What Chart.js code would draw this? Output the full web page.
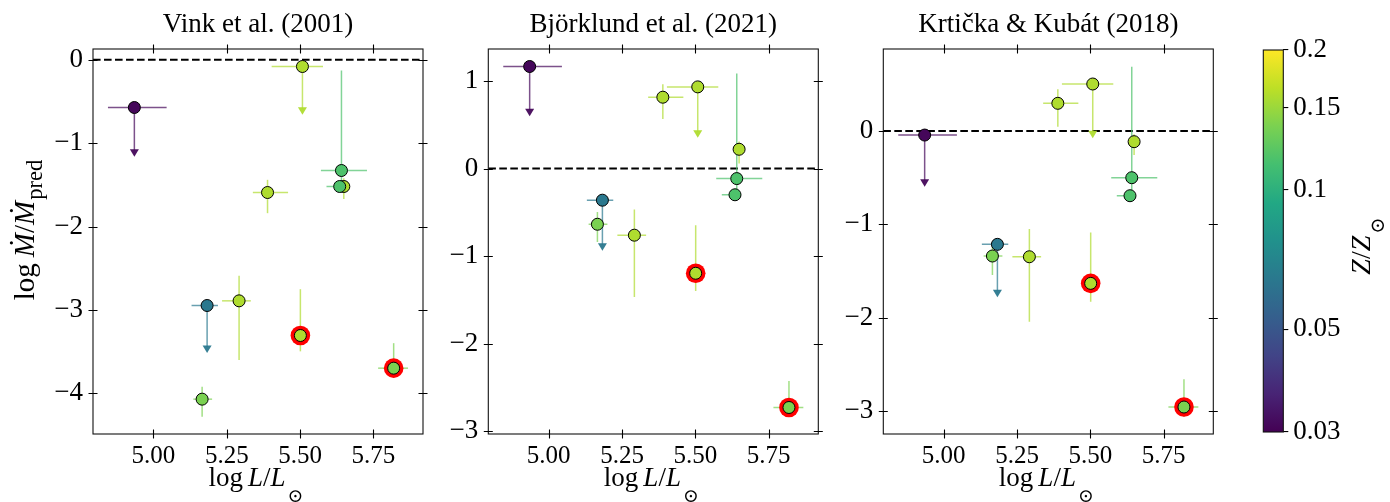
<!DOCTYPE html>
<html><head><meta charset="utf-8">
<script src="https://cdn.jsdelivr.net/npm/chart.js@4.4.0/dist/chart.umd.min.js"></script>
<style>
html,body{margin:0;padding:0;background:#fff;}
#wrap{position:relative;width:1390px;height:502px;overflow:hidden;background:#fff;}
canvas{position:absolute;left:0;top:0;}
</style></head><body><div id="wrap">
<canvas id="p0" width="1390" height="502"></canvas>
<canvas id="p1" width="1390" height="502"></canvas>
<canvas id="p2" width="1390" height="502"></canvas>
<canvas id="cb" width="1390" height="502"></canvas>
</div>
<script>
// ---------------- data ----------------
const panelTitles = ['Vink et al. (2001)', 'Björklund et al. (2021)', 'Krtička & Kubát (2018)'];
// stars (same order in every panel)
const logL        = [4.935, 5.508, 5.389, 5.649, 5.641, 5.635, 5.183, 5.166, 5.292, 5.501, 5.819];
const logLErrLo   = [0.090, 0.105, 0.050, 0.012, 0.070, 0.045, 0.053, 0.030, 0.058, 0.000, 0.053];
const logLErrHi   = [0.110, 0.070, 0.070, 0.012, 0.087, 0.005, 0.037, 0.034, 0.040, 0.000, 0.049];
const metallicity = [0.031, 0.159, 0.159, 0.159, 0.117, 0.117, 0.064, 0.137, 0.159, 0.159, 0.137];
const upperLimit  = [true, true, false, false, false, false, true, false, false, false, false];
const highlighted = [false, false, false, false, false, false, false, false, false, true, true];

// log Mdot / Mdot_pred per panel, with lower / upper errors (lower = arrow length for upper limits)
const ratioVink   = [-0.572, -0.080, -1.592, -1.520, -1.328, -1.520, -2.948, -4.072, -2.892, -3.308, -3.700];
const errLoVink   = [0.590, 0.580, 0.248, 0.150, 0.220, 0.050, 0.570, 0.210, 0.710, 0.190, 0.110];
const errHiVink   = [0.000, 0.000, 0.152, 0.100, 1.200, 0.050, 0.000, 0.150, 0.300, 0.556, 0.300];

const ratioBjork  = [1.166, 0.933, 0.815, 0.220, -0.115, -0.300, -0.362, -0.637, -0.762, -1.197, -2.731];
const errLoBjork  = [0.568, 0.580, 0.248, 0.163, 0.220, 0.050, 0.578, 0.202, 0.705, 0.202, 0.108];
const errHiBjork  = [0.000, 0.000, 0.148, 0.090, 1.200, 0.050, 0.000, 0.141, 0.293, 0.549, 0.304];

const ratioKrt    = [-0.043, 0.504, 0.297, -0.114, -0.500, -0.693, -1.214, -1.339, -1.347, -1.632, -2.957];
const errLoKrt    = [0.554, 0.582, 0.251, 0.143, 0.200, 0.050, 0.566, 0.204, 0.696, 0.197, 0.103];
const errHiKrt    = [0.000, 0.000, 0.150, 0.080, 1.190, 0.050, 0.000, 0.100, 0.297, 0.546, 0.297];

// axes
const xRange = [4.794, 5.919];
const xTicks = [5.00, 5.25, 5.50, 5.75];
const xTickLabels = ['5.00', '5.25', '5.50', '5.75'];
const yRanges = [[-4.49, 0.13], [-3.034, 1.366], [-3.246, 0.879]];
const yTicksVink = [-4, -3, -2, -1, 0];
const yTicksBjork = [-3, -2, -1, 0, 1];
const yTicksKrt = [-3, -2, -1, 0];
const yTickLabelsVink = ['\u22124', '\u22123', '\u22122', '\u22121', '0'];
const yTickLabelsBjork = ['\u22123', '\u22122', '\u22121', '0', '1'];
const yTickLabelsKrt = ['\u22123', '\u22122', '\u22121', '0'];

// colour bar
const zLimits = [0.03, 0.2];
const cbTicks = [0.03, 0.05, 0.1, 0.15, 0.2];
const cbTickLabels = ['0.03', '0.05', '0.1', '0.15', '0.2'];

// ---------------- styling / helpers ----------------
const FONT = "'Liberation Serif','Times New Roman','DejaVu Serif',serif";
const viridisStops = ['#440154','#482475','#414487','#355f8d','#2a788e','#21918c','#22a884','#44bf70','#7ad151','#bddf26','#fde725'];
function hex2rgb(h){ return [parseInt(h.substr(1,2),16), parseInt(h.substr(3,2),16), parseInt(h.substr(5,2),16)]; }
const vStops = viridisStops.map(hex2rgb);
function viridis(f){
  f = Math.max(0, Math.min(1, f));
  const n = vStops.length - 1;
  const i = Math.min(Math.floor(f * n), n - 1);
  const t = f * n - i;
  return vStops[i].map((c, k) => Math.round(c + (vStops[i + 1][k] - c) * t));
}
function zNorm(z){ return (Math.log10(z) - Math.log10(zLimits[0])) / (Math.log10(zLimits[1]) - Math.log10(zLimits[0])); }
function zColor(z){ return viridis(zNorm(z)); }
function rgba(c, a){ return 'rgba(' + c[0] + ',' + c[1] + ',' + c[2] + ',' + a + ')'; }

const panels = [
  {title: panelTitles[0], y: ratioVink, lo: errLoVink, hi: errHiVink, range: yRanges[0], ticks: yTicksVink, labels: yTickLabelsVink},
  {title: panelTitles[1], y: ratioBjork, lo: errLoBjork, hi: errHiBjork, range: yRanges[1], ticks: yTicksBjork, labels: yTickLabelsBjork},
  {title: panelTitles[2], y: ratioKrt, lo: errLoKrt, hi: errHiKrt, range: yRanges[2], ticks: yTicksKrt, labels: yTickLabelsKrt}
];
const panelLeft = [93, 488.3, 883.3];
const panelWidth = 330;
const plotTop = 49, plotBottom = 434;
const Y_AXIS_W = 80;

function fontFor(p, size){
  const s = p.sub ? size * (p.scale || 0.7) : size;
  return (p.it ? 'italic ' : '') + s + 'px ' + FONT;
}
function drawRich(ctx, parts, x, y, size, rotate){
  ctx.save();
  ctx.translate(x, y);
  if (rotate) ctx.rotate(-Math.PI / 2);
  ctx.textAlign = 'left'; ctx.textBaseline = 'alphabetic'; ctx.fillStyle = '#000';
  let w = 0;
  const widths = parts.map(p => {
    if (p.gap) { w += p.gap; return p.gap; }
    ctx.font = fontFor(p, size);
    const pw = ctx.measureText(p.t).width; w += pw; return pw;
  });
  let cx = -w / 2;
  parts.forEach((p, i) => {
    if (!p.gap) {
      ctx.font = fontFor(p, size);
      ctx.fillText(p.t, cx, p.sub ? size * p.sub : 0);
    }
    cx += widths[i];
  });
  ctx.restore();
}
const xLabelParts = [{t:'log'}, {gap:5}, {t:'L', it:true}, {t:'/'}, {t:'L', it:true}, {gap:2}, {t:'\u2299', sub:0.6}];
const yLabelParts = [{t:'log'}, {gap:6}, {t:'\u1E40', it:true}, {t:'/'}, {t:'\u1E40', it:true}, {gap:1}, {t:'pred', sub:0.27, scale:0.78}];
const cbLabelParts = [{t:'Z', it:true}, {t:'/'}, {t:'Z', it:true}, {gap:2}, {t:'\u2299', sub:0.5}];

const panelPlugin = {
  id: 'panelDecor',
  beforeDatasetsDraw(chart, args, opts){
    const P = panels[opts.idx];
    const ctx = chart.ctx, a = chart.chartArea, xs = chart.scales.x, ys = chart.scales.y;
    ctx.save();
    ctx.beginPath(); ctx.rect(a.left, a.top, a.right - a.left, a.bottom - a.top); ctx.clip();
    // reference line at zero
    const y0 = ys.getPixelForValue(0);
    ctx.setLineDash([7.6, 3.4]); ctx.lineWidth = 2; ctx.strokeStyle = '#000';
    ctx.beginPath(); ctx.moveTo(a.left, y0); ctx.lineTo(a.right, y0); ctx.stroke();
    ctx.setLineDash([]);
    // error bars and upper limits
    for (let i = 0; i < logL.length; i++){
      const col = zColor(metallicity[i]);
      const px = xs.getPixelForValue(logL[i]);
      const py = ys.getPixelForValue(P.y[i]);
      ctx.strokeStyle = rgba(col, 0.7); ctx.lineWidth = 1.5;
      if (logLErrLo[i] + logLErrHi[i] > 0){
        ctx.beginPath();
        ctx.moveTo(xs.getPixelForValue(logL[i] - logLErrLo[i]), py);
        ctx.lineTo(xs.getPixelForValue(logL[i] + logLErrHi[i]), py);
        ctx.stroke();
      }
      if (upperLimit[i]){
        const tip = ys.getPixelForValue(P.y[i] - P.lo[i]);
        ctx.beginPath(); ctx.moveTo(px, py); ctx.lineTo(px, tip - 6); ctx.stroke();
        ctx.fillStyle = rgba(col, 0.95);
        ctx.beginPath(); ctx.moveTo(px - 4.5, tip - 7.5); ctx.lineTo(px + 4.5, tip - 7.5); ctx.lineTo(px, tip); ctx.closePath(); ctx.fill();
      } else {
        ctx.beginPath();
        ctx.moveTo(px, ys.getPixelForValue(P.y[i] + P.hi[i]));
        ctx.lineTo(px, ys.getPixelForValue(P.y[i] - P.lo[i]));
        ctx.stroke();
      }
    }
    ctx.restore();
  },
  afterDraw(chart, args, opts){
    const P = panels[opts.idx];
    const ctx = chart.ctx, a = chart.chartArea, xs = chart.scales.x, ys = chart.scales.y;
    ctx.save();
    ctx.strokeStyle = '#111'; ctx.lineWidth = 1.1;
    ctx.strokeRect(a.left, a.top, a.right - a.left, a.bottom - a.top);
    ctx.lineWidth = 1.1; ctx.strokeStyle = '#000';
    ctx.beginPath();
    xs.ticks.forEach(t => {
      const px = Math.round(xs.getPixelForValue(t.value)) + 0.5;
      ctx.moveTo(px, a.bottom - 4.5); ctx.lineTo(px, a.bottom + 4.5);
      ctx.moveTo(px, a.top - 4.5); ctx.lineTo(px, a.top + 4.5);
    });
    ys.ticks.forEach(t => {
      const py = Math.round(ys.getPixelForValue(t.value)) + 0.5;
      ctx.moveTo(a.left - 4.5, py); ctx.lineTo(a.left + 4.5, py);
      ctx.moveTo(a.right - 4.5, py); ctx.lineTo(a.right + 4.5, py);
    });
    ctx.stroke();
    const cx = (a.left + a.right) / 2;
    ctx.fillStyle = '#000'; ctx.font = '27px ' + FONT; ctx.textAlign = 'center'; ctx.textBaseline = 'alphabetic';
    ctx.fillText(P.title, cx, 32);
    drawRich(ctx, xLabelParts, cx - 2, 486, 27, false);
    if (opts.idx === 0) drawRich(ctx, yLabelParts, 34, 230, 29, true);
    ctx.restore();
  }
};

function makePanel(idx){
  const P = panels[idx];
  const pts = logL.map((v, i) => ({x: v, y: P.y[i]}));
  const hl = logL.map((v, i) => ({x: v, y: P.y[i]})).filter((p, i) => highlighted[i]);
  const L = panelLeft[idx];
  new Chart(document.getElementById('p' + idx), {
    type: 'scatter',
    data: {datasets: [
      {data: pts, order: 0, pointRadius: 6, pointBackgroundColor: metallicity.map(z => rgba(zColor(z), 1)),
       pointBorderColor: '#000', pointBorderWidth: 1, showLine: false},
      {data: hl, order: 1, pointRadius: 9.8, pointBackgroundColor: '#ff0000', pointBorderWidth: 0, showLine: false}
    ]},
    options: {
      responsive: false, animation: false, events: [], devicePixelRatio: 1,
      layout: {padding: {left: L - Y_AXIS_W, right: 1390 - (L + panelWidth), top: plotTop, bottom: 0}},
      plugins: {legend: {display: false}, tooltip: {enabled: false}, panelDecor: {idx: idx}},
      scales: {
        x: {type: 'linear', min: xRange[0], max: xRange[1],
            afterBuildTicks: s => { s.ticks = xTicks.map(v => ({value: v})); },
            afterFit: s => { s.height = 502 - plotBottom; },
            grid: {display: false, drawTicks: false}, border: {display: false},
            ticks: {autoSkip: false, maxRotation: 0, padding: 7, color: '#000', font: {family: FONT, size: 25},
                    callback: (v, i) => xTickLabels[i]}},
        y: {type: 'linear', min: P.range[0], max: P.range[1],
            afterBuildTicks: s => { s.ticks = P.ticks.map(v => ({value: v})); },
            afterFit: s => { s.width = Y_AXIS_W; },
            grid: {display: false, drawTicks: false}, border: {display: false},
            ticks: {autoSkip: false, padding: 10, color: '#000', font: {family: FONT, size: 27},
                    callback: (v, i) => P.labels[i]}}
      }
    },
    plugins: [panelPlugin]
  });
}
[0, 1, 2].forEach(makePanel);

// ---------------- colour bar ----------------
const cbLeft = 1263.3, cbRight = 1283.3, cbTop = 50, cbBottom = 432, CB_AXIS_W = 60;
const cbPlugin = {
  id: 'cbDecor',
  beforeDatasetsDraw(chart){
    const ctx = chart.ctx, a = chart.chartArea;
    const g = ctx.createLinearGradient(0, a.bottom, 0, a.top);
    viridisStops.forEach((c, i) => g.addColorStop(i / (viridisStops.length - 1), c));
    ctx.save(); ctx.fillStyle = g; ctx.fillRect(a.left, a.top, a.right - a.left, a.bottom - a.top);
    ctx.strokeStyle = '#111'; ctx.lineWidth = 1.1; ctx.strokeRect(a.left, a.top, a.right - a.left, a.bottom - a.top);
    drawRich(ctx, cbLabelParts, 1370, 246, 28, true);
    ctx.restore();
  }
};
new Chart(document.getElementById('cb'), {
  type: 'scatter',
  data: {datasets: [{data: []}]},
  options: {
    responsive: false, animation: false, events: [], devicePixelRatio: 1,
    layout: {padding: {left: cbLeft, right: 1390 - cbRight - CB_AXIS_W, top: cbTop, bottom: 502 - cbBottom}},
    plugins: {legend: {display: false}, tooltip: {enabled: false}},
    scales: {
      x: {display: false, min: 0, max: 1},
      y: {type: 'logarithmic', position: 'right', min: zLimits[0], max: zLimits[1],
          afterBuildTicks: s => { s.ticks = cbTicks.map(v => ({value: v})); },
          afterFit: s => { s.width = CB_AXIS_W; },
          grid: {drawOnChartArea: false, drawTicks: true, tickLength: 5, color: '#000', lineWidth: 1.1},
          border: {display: false},
          ticks: {autoSkip: false, padding: 5, color: '#000', font: {family: FONT, size: 27},
                  callback: (v, i) => cbTickLabels[i]}}
    }
  },
  plugins: [cbPlugin]
});
</script>
</body></html>
